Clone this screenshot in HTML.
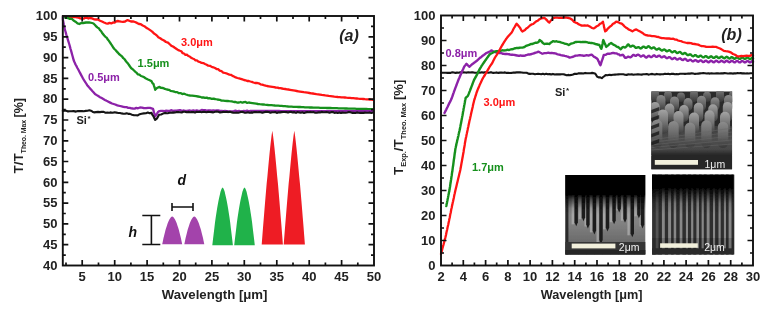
<!DOCTYPE html>
<html><head><meta charset="utf-8">
<style>
html,body{margin:0;padding:0;background:#fff;width:770px;height:309px;overflow:hidden}
svg{display:block;filter:blur(0.5px)}
text{font-family:"Liberation Sans",sans-serif;font-weight:bold;fill:#222}
.tl text{font-size:13px}
</style></head>
<body>
<svg width="770" height="309" viewBox="0 0 770 309">
<defs><filter id="semblur" x="-5%" y="-5%" width="110%" height="110%"><feGaussianBlur stdDeviation="0.7"/></filter></defs>
<polygon fill="#a343ab" points="162.2,244.2 162.9,241.0 163.5,238.1 164.2,235.2 164.9,232.6 165.5,230.1 166.2,227.8 166.9,225.7 167.5,223.8 168.2,222.1 168.9,220.6 169.5,219.2 170.2,218.2 170.9,217.3 171.5,216.7 172.2,216.5 172.9,216.7 173.5,217.3 174.2,218.2 174.9,219.2 175.5,220.6 176.2,222.1 176.9,223.8 177.5,225.7 178.2,227.8 178.9,230.1 179.5,232.6 180.2,235.2 180.9,238.1 181.5,241.0 182.2,244.2"/>
<polygon fill="#a343ab" points="184.3,244.2 185.0,241.0 185.6,238.1 186.3,235.2 187.0,232.6 187.6,230.1 188.3,227.8 189.0,225.7 189.6,223.8 190.3,222.1 191.0,220.6 191.6,219.2 192.3,218.2 193.0,217.3 193.6,216.7 194.3,216.5 195.0,216.7 195.6,217.3 196.3,218.2 197.0,219.2 197.6,220.6 198.3,222.1 199.0,223.8 199.6,225.7 200.3,227.8 201.0,230.1 201.6,232.6 202.3,235.2 203.0,238.1 203.6,241.0 204.3,244.2"/>
<polygon fill="#20b24a" points="212.3,245.2 213.0,239.2 213.7,233.4 214.4,227.8 215.0,222.6 215.7,217.6 216.4,212.9 217.1,208.5 217.8,204.5 218.5,200.7 219.2,197.4 219.9,194.4 220.5,191.8 221.2,189.7 221.9,188.2 222.6,187.4 223.3,188.2 224.0,189.7 224.7,191.8 225.3,194.4 226.0,197.4 226.7,200.7 227.4,204.5 228.1,208.5 228.8,212.9 229.5,217.6 230.2,222.6 230.8,227.8 231.5,233.4 232.2,239.2 232.9,245.2"/>
<polygon fill="#20b24a" points="234.2,245.2 234.9,239.2 235.6,233.4 236.3,227.8 236.9,222.6 237.6,217.6 238.3,212.9 239.0,208.5 239.7,204.5 240.4,200.7 241.1,197.4 241.8,194.4 242.4,191.8 243.1,189.7 243.8,188.2 244.5,187.4 245.2,188.2 245.9,189.7 246.6,191.8 247.2,194.4 247.9,197.4 248.6,200.7 249.3,204.5 250.0,208.5 250.7,212.9 251.4,217.6 252.1,222.6 252.7,227.8 253.4,233.4 254.1,239.2 254.8,245.2"/>
<polygon fill="#ee1c24" points="261.7,244.6 262.4,235.6 263.1,226.6 263.8,217.9 264.5,209.2 265.2,200.8 265.9,192.4 266.6,184.3 267.4,176.4 268.1,168.7 268.8,161.3 269.5,154.1 270.2,147.3 270.9,140.9 271.6,135.2 272.3,130.8 273.0,135.2 273.7,140.9 274.4,147.3 275.1,154.1 275.8,161.3 276.5,168.7 277.2,176.4 278.0,184.3 278.7,192.4 279.4,200.8 280.1,209.2 280.8,217.9 281.5,226.6 282.2,235.6 282.9,244.6"/>
<polygon fill="#ee1c24" points="283.7,244.6 284.4,235.6 285.1,226.6 285.8,217.9 286.5,209.2 287.2,200.8 287.9,192.4 288.6,184.3 289.4,176.4 290.1,168.7 290.8,161.3 291.5,154.1 292.2,147.3 292.9,140.9 293.6,135.2 294.3,130.8 295.0,135.2 295.7,140.9 296.4,147.3 297.1,154.1 297.8,161.3 298.5,168.7 299.2,176.4 300.0,184.3 300.7,192.4 301.4,200.8 302.1,209.2 302.8,217.9 303.5,226.6 304.2,235.6 304.9,244.6"/>
<path fill="none" stroke="#111" stroke-width="1.6" d="M142.3,215.5h18M151.4,215.5v29M142.3,244.5h18M172,207h21M172,203v8M193,203v8"/>
<text x="177.5" y="184.6" style="font-size:14px;font-style:italic;fill:#111">d</text>
<text x="128.5" y="236.7" style="font-size:14px;font-style:italic;fill:#111">h</text>
<polyline fill="none" stroke="#ff1414" stroke-width="2.3" stroke-linejoin="round" stroke-linecap="round" points="63.0,16.5 64.8,16.8 66.5,16.6 68.2,17.7 70.0,17.5 71.7,17.6 73.3,16.9 75.0,17.0 76.8,17.4 78.5,17.7 80.2,18.3 82.0,18.5 83.6,18.7 85.2,17.8 86.8,17.6 88.4,18.5 90.0,18.0 92.0,18.4 94.0,19.3 96.0,19.5 98.0,19.5 100.0,20.7 102.0,21.5 104.0,22.5 105.9,23.3 107.8,23.6 109.5,22.9 111.3,23.4 113.0,22.5 114.6,22.7 116.2,21.3 117.8,21.0 119.4,21.3 121.2,21.6 123.0,21.8 125.1,21.5 127.2,20.1 129.1,20.7 131.0,21.5 133.0,21.4 135.0,22.0 137.0,22.9 139.0,24.0 140.8,24.2 142.7,25.5 144.3,26.2 146.0,27.5 147.5,28.4 149.0,29.4 150.5,30.4 152.2,31.6 154.0,33.5 155.4,34.4 156.9,35.6 158.3,37.2 160.2,38.3 162.0,39.5 164.0,40.5 166.0,42.0 168.0,42.7 170.0,44.5 171.5,45.9 173.0,46.5 174.8,47.8 176.6,49.0 178.3,50.1 180.0,50.8 181.3,51.3 182.7,53.2 184.0,53.5 185.4,54.8 186.9,54.7 188.3,56.0 189.7,56.5 191.2,57.8 192.6,58.5 194.0,59.0 195.5,60.3 196.9,60.4 198.4,61.6 199.9,62.0 201.6,62.9 203.3,63.1 205.0,64.0 206.7,64.7 208.3,65.7 210.0,65.8 211.7,66.9 213.3,67.3 215.0,68.0 216.6,69.0 218.1,69.2 219.7,70.7 221.5,71.2 223.2,72.6 225.0,73.0 227.2,73.7 229.4,74.6 230.9,74.8 232.5,75.9 234.0,76.5 235.7,77.4 237.4,78.0 239.1,78.4 240.7,78.8 242.4,79.4 244.0,80.0 245.6,80.3 247.2,81.0 248.8,81.0 250.4,81.5 251.9,81.9 253.4,82.5 255.0,83.0 256.8,82.9 258.7,83.3 260.5,84.3 262.1,84.7 263.8,85.2 265.4,85.6 267.0,86.0 268.8,86.3 270.6,86.6 272.3,86.9 274.1,87.2 275.7,87.5 277.3,87.7 278.8,88.0 280.4,88.2 282.0,88.5 283.6,88.8 285.2,89.0 286.8,89.3 288.4,89.5 290.0,89.8 291.7,90.1 293.3,90.4 295.0,90.7 296.7,91.0 298.3,91.3 300.0,91.6 301.9,91.9 303.8,92.2 305.6,92.4 307.5,92.7 309.4,93.0 311.2,93.3 312.9,93.5 314.7,93.8 316.5,94.1 318.2,94.3 320.0,94.6 321.8,94.9 323.5,95.1 325.3,95.4 327.0,95.6 328.8,95.9 330.6,96.1 332.5,96.3 334.3,96.6 336.2,96.8 338.0,97.0 339.7,97.1 341.4,97.3 343.1,97.4 344.8,97.5 346.5,97.7 348.2,97.8 349.9,97.9 351.6,98.1 353.3,98.2 354.9,98.4 356.6,98.5 358.3,98.7 360.0,98.8 361.6,98.9 363.2,99.0 364.9,99.2 366.5,99.3 368.1,99.4 369.8,99.5 371.4,99.7 373.0,99.8"/>
<polyline fill="none" stroke="#16901c" stroke-width="2.3" stroke-linejoin="round" stroke-linecap="round" points="63.8,17.3 65.9,17.6 68.0,18.0 69.8,18.9 71.6,18.7 73.5,20.5 75.5,21.7 77.5,23.3 79.4,24.0 81.3,23.0 83.2,23.0 86.0,22.5 89.0,22.3 92.0,23.0 93.5,23.5 95.0,25.0 96.3,26.5 97.7,27.6 99.0,28.5 100.0,30.1 101.0,31.0 102.0,32.7 103.0,34.0 104.2,35.5 105.4,36.8 106.6,37.7 107.8,39.5 108.9,40.9 109.9,42.4 111.0,44.0 112.1,45.7 113.2,47.5 114.4,49.0 115.5,50.0 116.7,51.4 117.8,52.6 119.0,54.0 120.4,55.1 121.9,56.3 123.3,58.2 124.5,59.1 125.8,61.0 127.0,62.5 128.0,63.6 129.0,65.0 130.0,66.5 131.3,68.3 132.7,69.2 134.0,70.5 135.3,71.8 136.5,72.7 137.8,74.3 139.4,74.6 141.0,76.0 142.5,76.5 144.0,77.1 145.5,78.2 148.0,79.5 149.7,80.3 151.4,81.1 152.4,83.1 153.5,84.0 154.1,86.1 154.6,87.5 155.2,89.8 157.0,88.0 159.1,86.9 161.1,87.9 163.0,88.0 164.9,88.9 166.9,89.5 168.8,89.8 170.5,90.8 172.3,91.2 174.0,91.5 175.6,92.2 177.2,92.1 178.9,93.2 180.5,93.1 182.3,94.1 184.2,93.7 186.0,94.5 188.0,95.1 190.1,95.5 192.1,95.6 194.1,95.9 196.1,96.2 198.0,96.5 200.0,96.8 201.7,97.5 203.3,97.3 205.0,97.9 206.7,97.6 208.3,98.4 210.0,98.2 211.7,98.9 213.3,98.7 215.0,99.0 217.3,99.5 219.7,99.8 221.5,100.6 223.2,100.7 225.0,100.8 227.2,101.0 229.4,101.2 231.7,101.3 234.0,102.0 235.7,102.0 237.4,102.6 239.1,102.5 240.7,102.0 242.4,102.7 244.0,102.2 245.6,102.0 247.2,102.9 248.8,102.5 250.6,102.8 252.5,103.1 254.3,103.4 256.2,103.7 258.0,104.0 259.7,104.2 261.4,104.3 263.1,104.5 264.9,104.7 266.6,104.8 268.3,105.0 270.0,105.1 271.6,105.2 273.3,105.3 275.0,105.5 276.7,105.6 278.3,105.7 280.0,105.8 281.7,105.9 283.3,106.1 285.0,106.2 286.7,106.3 288.3,106.5 290.0,106.6 291.7,106.7 293.3,106.8 295.0,106.8 296.7,106.9 298.3,107.0 300.0,107.0 301.7,107.1 303.3,107.2 305.0,107.3 306.7,107.3 308.3,107.4 310.0,107.5 311.7,107.5 313.4,107.6 315.1,107.6 316.8,107.7 318.5,107.7 320.3,107.8 322.0,107.8 323.7,107.9 325.4,107.9 327.1,108.0 328.8,108.0 330.4,108.0 332.1,108.1 333.7,108.1 335.3,108.2 337.0,108.2 338.6,108.3 340.2,108.3 341.8,108.4 343.5,108.4 345.1,108.5 346.7,108.5 348.4,108.6 350.0,108.6 351.6,108.6 353.3,108.7 354.9,108.7 356.6,108.8 358.2,108.8 359.9,108.9 361.5,108.9 363.1,108.9 364.8,109.0 366.4,109.0 368.1,109.1 369.7,109.1 371.4,109.2 373.0,109.2"/>
<polyline fill="none" stroke="#8c22a8" stroke-width="2.3" stroke-linejoin="round" stroke-linecap="round" points="62.9,17.0 62.9,19.7 63.2,21.3 63.5,22.9 63.8,24.5 64.2,26.2 64.5,27.8 64.8,29.4 65.3,31.0 65.8,32.6 66.2,34.2 66.7,35.9 67.2,37.5 67.7,39.1 68.3,41.1 68.9,43.0 69.5,45.0 70.0,46.9 70.5,48.8 71.1,50.7 71.6,52.6 72.1,54.5 72.6,56.3 73.1,58.1 73.6,60.0 74.2,61.5 74.9,63.0 75.5,64.5 76.5,66.2 77.4,68.0 78.4,69.8 79.4,71.7 80.3,73.4 81.2,75.1 82.1,76.8 83.0,78.5 84.0,80.2 85.1,81.8 86.2,83.5 87.2,85.2 88.5,86.6 89.7,88.1 91.0,89.5 92.3,91.0 93.7,92.5 95.0,94.0 96.7,95.1 98.3,96.1 100.0,97.2 101.7,98.1 103.3,99.0 104.9,99.9 106.6,100.8 108.4,101.7 110.2,102.6 112.0,103.5 113.6,104.0 115.2,104.5 116.7,105.1 118.3,105.6 120.0,106.0 121.7,106.4 123.3,106.8 125.0,107.2 126.6,107.2 128.2,107.8 129.8,107.8 131.4,108.3 133.0,108.5 134.7,108.6 136.3,107.9 138.0,108.3 140.0,107.5 142.0,107.6 144.0,108.2 146.0,108.2 148.0,107.8 150.0,107.8 153.0,108.8 153.4,110.1 153.9,112.4 154.3,113.4 154.8,115.3 155.2,116.5 156.1,115.0 157.1,113.6 158.0,112.0 159.5,111.1 161.0,110.8 162.8,110.9 164.5,111.1 166.2,110.7 168.0,110.9 169.8,110.8 171.5,110.2 173.2,110.9 175.0,110.6 176.7,110.7 178.3,110.4 180.0,110.1 181.7,110.9 183.3,110.5 185.0,110.8 186.7,110.9 188.3,110.7 190.0,110.5 191.7,110.9 193.3,110.4 195.0,110.8 196.7,110.4 198.3,110.9 200.0,110.8 201.7,110.0 203.3,110.1 205.0,110.1 206.7,110.9 208.3,110.3 210.0,110.4 211.7,110.6 213.3,110.3 215.0,110.6 216.7,110.5 218.3,110.5 220.0,110.8 221.7,110.9 223.3,111.2 225.0,110.9 226.8,111.1 228.5,111.3 230.2,111.3 232.0,111.4 233.8,111.1 235.5,110.6 237.2,111.3 239.0,110.9 240.6,111.4 242.2,111.3 243.8,111.0 245.5,111.1 247.1,110.6 248.7,111.3 250.3,111.0 251.9,111.0 253.5,111.0 255.2,111.0 256.8,111.0 258.4,111.0 260.0,111.0 261.6,111.0 263.2,111.0 264.8,111.0 266.4,111.0 268.0,111.0 269.6,111.0 271.2,111.0 272.8,111.0 274.4,111.0 276.0,111.0 277.6,111.0 279.2,111.0 280.8,111.1 282.4,111.1 284.0,111.1 285.6,111.1 287.2,111.1 288.8,111.1 290.4,111.1 292.0,111.1 293.6,111.1 295.2,111.1 296.8,111.1 298.4,111.1 300.0,111.1 301.6,111.1 303.2,111.1 304.9,111.1 306.5,111.1 308.1,111.1 309.7,111.1 311.4,111.1 313.0,111.1 314.6,111.1 316.2,111.1 317.8,111.1 319.5,111.1 321.1,111.1 322.7,111.1 324.3,111.1 326.0,111.1 327.6,111.1 329.2,111.1 330.8,111.1 332.4,111.1 334.1,111.1 335.7,111.1 337.3,111.2 338.9,111.2 340.6,111.2 342.2,111.2 343.8,111.2 345.4,111.2 347.0,111.2 348.7,111.2 350.3,111.2 351.9,111.2 353.5,111.2 355.2,111.2 356.8,111.2 358.4,111.2 360.0,111.2 361.6,111.2 363.3,111.2 364.9,111.2 366.5,111.2 368.1,111.2 369.8,111.2 371.4,111.2 373.0,111.2"/>
<polyline fill="none" stroke="#151515" stroke-width="2.1" stroke-linejoin="round" stroke-linecap="round" points="62.8,110.9 64.5,110.8 66.3,110.8 68.0,111.4 69.7,111.2 71.3,111.3 73.7,111.1 76.0,111.6 78.0,111.0 80.0,111.1 82.0,111.0 83.8,111.2 85.7,110.9 87.6,110.7 89.4,110.2 90.9,110.7 92.5,111.7 94.0,112.4 96.0,112.1 98.0,111.9 100.0,112.1 101.8,111.8 103.7,111.9 105.5,112.7 107.3,112.6 109.2,112.7 111.0,112.4 112.8,112.8 114.6,112.3 116.4,112.6 118.2,113.0 120.0,113.0 121.7,113.4 123.3,113.7 125.0,113.8 126.7,113.2 128.3,113.9 130.0,113.9 132.0,114.7 134.0,115.2 135.9,115.3 137.8,115.4 139.7,114.2 141.6,113.7 143.8,113.4 146.0,113.2 147.8,112.6 149.6,113.3 151.4,112.7 152.4,114.9 153.5,116.4 154.3,118.2 155.2,119.9 157.0,118.4 158.1,116.4 159.1,114.7 161.1,114.5 163.0,113.6 165.0,112.9 166.7,113.2 168.3,113.1 170.0,112.7 171.7,112.5 173.3,112.6 175.0,112.4 176.7,112.0 178.3,112.1 180.0,112.2 181.7,112.5 183.3,111.7 185.0,111.7 186.7,112.3 188.3,111.9 190.0,112.2 191.7,112.1 193.3,112.0 195.0,112.6 196.7,111.8 198.3,112.0 200.0,111.8 201.7,112.2 203.3,111.8 205.0,111.9 206.7,112.3 208.3,111.8 210.0,112.0 211.7,112.1 213.3,112.4 215.0,111.7 216.7,111.6 218.3,111.8 220.0,112.4 221.7,112.2 223.3,111.9 225.0,112.0 226.7,111.8 228.3,112.1 230.0,111.7 231.7,112.4 233.3,112.6 235.0,112.7 236.7,112.5 238.3,112.7 240.0,112.3 241.6,111.8 243.2,112.1 244.8,112.8 246.4,112.6 248.0,112.2 249.6,112.8 251.2,112.4 252.8,112.6 254.4,112.1 256.0,112.0 257.6,112.3 259.2,112.0 260.8,112.2 262.4,112.8 264.0,112.2 265.6,111.9 267.2,111.9 268.8,112.0 270.4,112.7 272.0,112.2 273.6,112.2 275.2,112.0 276.8,112.9 278.4,112.3 280.0,112.4 281.6,112.1 283.2,112.0 284.8,112.0 286.4,112.1 288.0,112.6 289.6,112.0 291.2,111.9 292.8,112.4 294.4,112.1 296.0,112.9 297.6,112.0 299.2,112.4 300.8,112.7 302.4,112.3 304.0,112.9 305.6,112.4 307.2,112.1 308.8,112.3 310.4,111.9 312.0,112.3 313.6,112.1 315.2,112.8 316.8,112.7 318.4,112.4 320.0,112.4 321.6,111.9 323.2,112.2 324.8,112.2 326.4,112.1 328.0,112.2 329.6,112.8 331.2,112.1 332.8,112.0 334.5,112.9 336.1,112.5 337.7,113.0 339.3,112.4 340.9,112.9 342.5,112.6 344.1,112.8 345.7,112.7 347.3,112.5 348.9,112.1 350.5,112.2 352.1,112.9 353.7,112.9 355.3,113.0 356.9,112.4 358.5,112.7 360.2,112.9 361.8,112.7 363.4,112.9 365.0,112.6 366.6,112.7 368.2,112.8 369.8,112.4 371.4,113.0 373.0,112.6"/>
<rect x="62.8" y="16.0" width="311.2" height="249.5" fill="none" stroke="#111" stroke-width="1.9"/>
<path fill="none" stroke="#111" stroke-width="1.7" d="M66.0,265.5v-3M66.0,16.0v3M82.2,265.5v-5.5M82.2,16.0v5.5M98.5,265.5v-3M98.5,16.0v3M114.7,265.5v-5.5M114.7,16.0v5.5M130.9,265.5v-3M130.9,16.0v3M147.1,265.5v-5.5M147.1,16.0v5.5M163.3,265.5v-3M163.3,16.0v3M179.5,265.5v-5.5M179.5,16.0v5.5M195.7,265.5v-3M195.7,16.0v3M211.9,265.5v-5.5M211.9,16.0v5.5M228.1,265.5v-3M228.1,16.0v3M244.3,265.5v-5.5M244.3,16.0v5.5M260.5,265.5v-3M260.5,16.0v3M276.8,265.5v-5.5M276.8,16.0v5.5M293.0,265.5v-3M293.0,16.0v3M309.2,265.5v-5.5M309.2,16.0v5.5M325.4,265.5v-3M325.4,16.0v3M341.6,265.5v-5.5M341.6,16.0v5.5M357.8,265.5v-3M357.8,16.0v3M62.8,255.1h3M374.0,255.1h-3M62.8,244.7h5.5M374.0,244.7h-5.5M62.8,234.3h3M374.0,234.3h-3M62.8,223.9h5.5M374.0,223.9h-5.5M62.8,213.5h3M374.0,213.5h-3M62.8,203.1h5.5M374.0,203.1h-5.5M62.8,192.7h3M374.0,192.7h-3M62.8,182.3h5.5M374.0,182.3h-5.5M62.8,171.9h3M374.0,171.9h-3M62.8,161.5h5.5M374.0,161.5h-5.5M62.8,151.1h3M374.0,151.1h-3M62.8,140.8h5.5M374.0,140.8h-5.5M62.8,130.4h3M374.0,130.4h-3M62.8,120.0h5.5M374.0,120.0h-5.5M62.8,109.6h3M374.0,109.6h-3M62.8,99.2h5.5M374.0,99.2h-5.5M62.8,88.8h3M374.0,88.8h-3M62.8,78.4h5.5M374.0,78.4h-5.5M62.8,68.0h3M374.0,68.0h-3M62.8,57.6h5.5M374.0,57.6h-5.5M62.8,47.2h3M374.0,47.2h-3M62.8,36.8h5.5M374.0,36.8h-5.5M62.8,26.4h3M374.0,26.4h-3"/>
<g class="tl"><text x="57.5" y="269.7" text-anchor="end">40</text><text x="57.5" y="248.9" text-anchor="end">45</text><text x="57.5" y="228.1" text-anchor="end">50</text><text x="57.5" y="207.3" text-anchor="end">55</text><text x="57.5" y="186.5" text-anchor="end">60</text><text x="57.5" y="165.7" text-anchor="end">65</text><text x="57.5" y="144.9" text-anchor="end">70</text><text x="57.5" y="124.2" text-anchor="end">75</text><text x="57.5" y="103.4" text-anchor="end">80</text><text x="57.5" y="82.6" text-anchor="end">85</text><text x="57.5" y="61.8" text-anchor="end">90</text><text x="57.5" y="41.0" text-anchor="end">95</text><text x="57.5" y="20.2" text-anchor="end">100</text><text x="82.2" y="281.0" text-anchor="middle">5</text><text x="114.7" y="281.0" text-anchor="middle">10</text><text x="147.1" y="281.0" text-anchor="middle">15</text><text x="179.5" y="281.0" text-anchor="middle">20</text><text x="211.9" y="281.0" text-anchor="middle">25</text><text x="244.3" y="281.0" text-anchor="middle">30</text><text x="276.8" y="281.0" text-anchor="middle">35</text><text x="309.2" y="281.0" text-anchor="middle">40</text><text x="341.6" y="281.0" text-anchor="middle">45</text><text x="374.0" y="281.0" text-anchor="middle">50</text></g>
<text x="214.6" y="298.8" text-anchor="middle" style="font-size:13.2px">Wavelength [μm]</text>
<text x="349" y="41" text-anchor="middle" style="font-size:16px;font-style:italic">(a)</text>
<text x="181" y="46.2" style="font-size:11px;fill:#ff1414">3.0μm</text>
<text x="137.6" y="66.8" style="font-size:11px;fill:#16901c">1.5μm</text>
<text x="88" y="81.2" style="font-size:11px;fill:#8c22a8">0.5μm</text>
<text x="76.5" y="124.3" style="font-size:11px">Si<tspan dx="0.5" dy="-3" style="font-size:8px">*</tspan></text>
<g transform="translate(23,173.5) rotate(-90)"><text x="0" y="0" style="font-size:13.5px">T/T<tspan dy="3" style="font-size:6.8px">Theo. Max</tspan><tspan dy="-3" dx="2.5" style="font-size:12.5px">[%]</tspan></text></g>
<g filter="url(#semblur)"><defs>
<linearGradient id="fadeA" x1="0" y1="0" x2="0" y2="1">
<stop offset="0" stop-color="#000"/><stop offset="0.24" stop-color="#000"/><stop offset="0.3" stop-color="#000" stop-opacity="0.6"/><stop offset="0.42" stop-color="#000" stop-opacity="0.1"/><stop offset="0.5" stop-color="#000" stop-opacity="0"/><stop offset="1" stop-color="#000" stop-opacity="0"/></linearGradient>
<linearGradient id="fadeB" x1="0" y1="0" x2="0" y2="1">
<stop offset="0" stop-color="#000"/><stop offset="0.16" stop-color="#000"/><stop offset="0.22" stop-color="#000" stop-opacity="0.7"/><stop offset="0.36" stop-color="#000" stop-opacity="0.15"/><stop offset="0.5" stop-color="#000" stop-opacity="0"/><stop offset="1" stop-color="#000" stop-opacity="0"/></linearGradient>
<linearGradient id="pil" x1="0" y1="0" x2="0" y2="1">
<stop offset="0" stop-color="#a0a0a0"/><stop offset="0.45" stop-color="#787878"/><stop offset="1" stop-color="#353535"/></linearGradient>
<linearGradient id="pil2" x1="0" y1="0" x2="0" y2="1">
<stop offset="0" stop-color="#7a7a7a"/><stop offset="1" stop-color="#3a3a3a"/></linearGradient>
<linearGradient id="floor" x1="0" y1="0" x2="0" y2="1">
<stop offset="0" stop-color="#3c3c3c"/><stop offset="0.5" stop-color="#4e4e4e"/><stop offset="0.8" stop-color="#474747"/><stop offset="1" stop-color="#262626"/></linearGradient>
<linearGradient id="pilA" x1="0" y1="0" x2="0" y2="1"><stop offset="0" stop-color="#787878"/><stop offset="1" stop-color="#353535"/></linearGradient>
<linearGradient id="pilB" x1="0" y1="0" x2="0" y2="1"><stop offset="0" stop-color="#8c8c8c"/><stop offset="0.5" stop-color="#686868"/><stop offset="1" stop-color="#383838"/></linearGradient>
<linearGradient id="pilC" x1="0" y1="0" x2="0" y2="1"><stop offset="0" stop-color="#a4a4a4"/><stop offset="0.5" stop-color="#767676"/><stop offset="1" stop-color="#3c3c3c"/></linearGradient>
<linearGradient id="g2" x1="0" y1="0" x2="0" y2="1">
<stop offset="0" stop-color="#8a8a8a"/><stop offset="0.6" stop-color="#828282"/><stop offset="0.85" stop-color="#6a6a6a"/><stop offset="1" stop-color="#333"/></linearGradient>
</defs>

<clipPath id="c1"><rect x="651.2" y="91.3" width="81.0" height="78.2"/></clipPath>
<g clip-path="url(#c1)">
<rect x="651.2" y="91.3" width="81.0" height="78.2" fill="#2a2a2a"/>
<rect x="651.2" y="126" width="81.0" height="29" fill="url(#floor)"/>
<rect x="651.0" y="89.4" width="8.0" height="12.6" rx="4.0" fill="url(#pilA)"/>
<rect x="664.0" y="91.0" width="8.0" height="11.0" rx="4.0" fill="url(#pilA)"/>
<rect x="677.0" y="92.6" width="8.0" height="9.4" rx="4.0" fill="url(#pilA)"/>
<rect x="690.0" y="90.2" width="8.0" height="11.8" rx="4.0" fill="url(#pilA)"/>
<rect x="703.0" y="91.8" width="8.0" height="10.2" rx="4.0" fill="url(#pilA)"/>
<rect x="716.0" y="89.4" width="8.0" height="12.6" rx="4.0" fill="url(#pilA)"/>
<rect x="729.0" y="91.0" width="8.0" height="11.0" rx="4.0" fill="url(#pilA)"/>
<rect x="656.5" y="94.9" width="9.0" height="16.1" rx="4.5" fill="url(#pilB)"/>
<rect x="670.0" y="96.5" width="9.0" height="14.5" rx="4.5" fill="url(#pilB)"/>
<rect x="683.5" y="98.1" width="9.0" height="12.9" rx="4.5" fill="url(#pilB)"/>
<rect x="697.0" y="95.7" width="9.0" height="15.3" rx="4.5" fill="url(#pilB)"/>
<rect x="710.5" y="97.3" width="9.0" height="13.7" rx="4.5" fill="url(#pilB)"/>
<rect x="724.0" y="94.9" width="9.0" height="16.1" rx="4.5" fill="url(#pilB)"/>
<rect x="650.2" y="101.9" width="9.5" height="20.1" rx="4.8" fill="url(#pilC)"/>
<rect x="664.8" y="103.5" width="9.5" height="18.5" rx="4.8" fill="url(#pilC)"/>
<rect x="679.2" y="105.1" width="9.5" height="16.9" rx="4.8" fill="url(#pilC)"/>
<rect x="693.8" y="102.7" width="9.5" height="19.3" rx="4.8" fill="url(#pilC)"/>
<rect x="708.2" y="104.3" width="9.5" height="17.7" rx="4.8" fill="url(#pilC)"/>
<rect x="722.8" y="101.9" width="9.5" height="20.1" rx="4.8" fill="url(#pilC)"/>
<rect x="658.0" y="109.4" width="10.0" height="24.6" rx="5.0" fill="url(#pilC)"/>
<rect x="673.5" y="111.0" width="10.0" height="23.0" rx="5.0" fill="url(#pilC)"/>
<rect x="689.0" y="112.6" width="10.0" height="21.4" rx="5.0" fill="url(#pilC)"/>
<rect x="704.5" y="110.2" width="10.0" height="23.8" rx="5.0" fill="url(#pilC)"/>
<rect x="720.0" y="111.8" width="10.0" height="22.2" rx="5.0" fill="url(#pilC)"/>
<rect x="651.8" y="119.4" width="10.5" height="28.6" rx="5.2" fill="url(#pilB)"/>
<rect x="668.2" y="121.0" width="10.5" height="27.0" rx="5.2" fill="url(#pilB)"/>
<rect x="684.8" y="122.6" width="10.5" height="25.4" rx="5.2" fill="url(#pilB)"/>
<rect x="701.2" y="120.2" width="10.5" height="27.8" rx="5.2" fill="url(#pilB)"/>
<rect x="717.8" y="121.8" width="10.5" height="26.2" rx="5.2" fill="url(#pilB)"/>
<path d="M651.2,140.0L732.2,128.0" stroke="#6a6a6a" stroke-width="0.8" opacity="0.6"/>
<path d="M651.2,142.5L732.2,132.0" stroke="#6a6a6a" stroke-width="0.8" opacity="0.6"/>
<path d="M651.2,145.0L732.2,136.0" stroke="#6a6a6a" stroke-width="0.8" opacity="0.6"/>
<path d="M651.2,147.5L732.2,140.0" stroke="#6a6a6a" stroke-width="0.8" opacity="0.6"/>
<path d="M651.2,150.0L732.2,144.0" stroke="#6a6a6a" stroke-width="0.8" opacity="0.6"/>
<path d="M651.2,110.0l8,-3v3.5l-8,3z" fill="#1a1a1a" opacity="0.8"/>
<path d="M651.2,118.0l8,-3v3.5l-8,3z" fill="#1a1a1a" opacity="0.8"/>
<path d="M651.2,126.0l8,-3v3.5l-8,3z" fill="#1a1a1a" opacity="0.8"/>
<path d="M651.2,134.0l8,-3v3.5l-8,3z" fill="#1a1a1a" opacity="0.8"/>
<path d="M651.2,142.0l8,-3v3.5l-8,3z" fill="#1a1a1a" opacity="0.8"/>
<rect x="651.2" y="155.5" width="81.0" height="14.0" fill="#262626"/>
</g>
<rect x="654.8" y="160" width="43.2" height="4.8" fill="#f2f0dc"/>
<rect x="565.4" y="175.0" width="79.9" height="79.5" fill="url(#g2)"/>
<rect x="571.6" y="193.0" width="2.4" height="31.3" fill="#b4b4b4" opacity="0.7"/>
<rect x="578.6" y="193.0" width="2.4" height="26.2" fill="#b4b4b4" opacity="0.7"/>
<rect x="584.5" y="193.0" width="2.4" height="33.5" fill="#b4b4b4" opacity="0.7"/>
<rect x="589.9" y="193.0" width="2.4" height="39.4" fill="#b4b4b4" opacity="0.7"/>
<rect x="596.5" y="193.0" width="2.4" height="49.0" fill="#b4b4b4" opacity="0.7"/>
<rect x="603.0" y="193.0" width="2.4" height="36.4" fill="#b4b4b4" opacity="0.7"/>
<rect x="609.6" y="193.0" width="2.4" height="29.2" fill="#b4b4b4" opacity="0.7"/>
<rect x="615.5" y="193.0" width="2.4" height="17.5" fill="#b4b4b4" opacity="0.7"/>
<rect x="620.9" y="193.0" width="2.4" height="27.7" fill="#b4b4b4" opacity="0.7"/>
<rect x="627.4" y="193.0" width="2.4" height="42.3" fill="#b4b4b4" opacity="0.7"/>
<rect x="634.4" y="193.0" width="2.4" height="23.3" fill="#b4b4b4" opacity="0.7"/>
<rect x="639.5" y="193.0" width="2.4" height="33.5" fill="#b4b4b4" opacity="0.7"/>
<path d="M574.5,187.0V222.3L576.2,226.3L577.9,222.3V187.0Z" fill="#1c1c1c"/>
<path d="M581.8,187.0V217.2L583.5,221.2L585.2,217.2V187.0Z" fill="#1c1c1c"/>
<path d="M586.2,187.0V224.5L587.9,228.5L589.6,224.5V187.0Z" fill="#1c1c1c"/>
<path d="M592.7,187.0V230.4L594.4,234.4L596.1,230.4V187.0Z" fill="#1c1c1c"/>
<path d="M599.3,187.0V240.0L601.0,244.0L602.7,240.0V187.0Z" fill="#1c1c1c"/>
<path d="M605.8,187.0V227.4L607.5,231.4L609.2,227.4V187.0Z" fill="#1c1c1c"/>
<path d="M612.4,187.0V220.2L614.1,224.2L615.8,220.2V187.0Z" fill="#1c1c1c"/>
<path d="M617.5,187.0V208.5L619.2,212.5L620.9,208.5V187.0Z" fill="#1c1c1c"/>
<path d="M623.3,187.0V218.7L625.0,222.7L626.7,218.7V187.0Z" fill="#1c1c1c"/>
<path d="M630.6,187.0V233.3L632.3,237.3L634.0,233.3V187.0Z" fill="#1c1c1c"/>
<path d="M637.2,187.0V214.3L638.9,218.3L640.6,214.3V187.0Z" fill="#1c1c1c"/>
<path d="M640.8,187.0V224.5L642.5,228.5L644.2,224.5V187.0Z" fill="#1c1c1c"/>
<rect x="565.4" y="175.0" width="3" height="79.5" fill="#2a2a2a"/>
<rect x="565.4" y="175.0" width="79.9" height="79.5" fill="url(#fadeA)"/>
<rect x="565.4" y="242" width="79.9" height="12.5" fill="#363636"/>
<rect x="565.4" y="250" width="79.9" height="4.5" fill="#262626"/>
<rect x="571.7" y="243.6" width="43.7" height="4.8" fill="#f2f0dc"/>
<rect x="652.0" y="174.6" width="81.5" height="79.9" fill="#888"/>
<rect x="652.5" y="174.6" width="3.2" height="79.9" fill="#2e2e2e"/>
<rect x="658.5" y="174.6" width="3.4" height="79.9" fill="#2e2e2e"/>
<rect x="664.8" y="174.6" width="3.3" height="79.9" fill="#2e2e2e"/>
<rect x="671.1" y="174.6" width="2.6" height="79.9" fill="#2e2e2e"/>
<rect x="676.2" y="174.6" width="3.5" height="79.9" fill="#2e2e2e"/>
<rect x="682.4" y="174.6" width="3.5" height="79.9" fill="#2e2e2e"/>
<rect x="688.0" y="174.6" width="3.1" height="79.9" fill="#2e2e2e"/>
<rect x="693.3" y="174.6" width="3.1" height="79.9" fill="#2e2e2e"/>
<rect x="699.0" y="174.6" width="2.6" height="79.9" fill="#2e2e2e"/>
<rect x="703.8" y="174.6" width="2.9" height="79.9" fill="#2e2e2e"/>
<rect x="709.6" y="174.6" width="3.4" height="79.9" fill="#2e2e2e"/>
<rect x="715.1" y="174.6" width="3.4" height="79.9" fill="#2e2e2e"/>
<rect x="720.7" y="174.6" width="3.2" height="79.9" fill="#2e2e2e"/>
<rect x="726.0" y="174.6" width="2.6" height="79.9" fill="#2e2e2e"/>
<rect x="731.5" y="174.6" width="2.8" height="79.9" fill="#2e2e2e"/>
<rect x="652.0" y="174.6" width="7" height="79.9" fill="#333" opacity="0.6"/>
<rect x="652.0" y="174.6" width="81.5" height="79.9" fill="url(#fadeB)"/>
<rect x="652.0" y="238" width="81.5" height="16.5" fill="#000" opacity="0.15"/>
<rect x="652.0" y="248.3" width="81.5" height="6.2" fill="#2a2a2a"/>
<rect x="660.1" y="243.3" width="37.7" height="4.5" fill="#f2f0dc"/>
</g><text x="704.5" y="167.6" style="font-size:10.5px;font-weight:normal;fill:#eee">1μm</text><text x="618.8" y="251.2" style="font-size:10.5px;font-weight:normal;fill:#f0f0f0">2μm</text><text x="704.2" y="251.2" style="font-size:10.5px;font-weight:normal;fill:#f0f0f0">2μm</text><polyline fill="none" stroke="#151515" stroke-width="2.1" stroke-linejoin="round" stroke-linecap="round" points="441.0,72.6 442.6,72.7 444.2,72.8 445.8,72.8 447.4,72.9 449.1,72.7 450.7,72.9 452.3,72.2 453.9,72.5 455.5,72.9 457.1,72.6 458.7,72.8 460.3,72.3 461.9,72.5 463.6,72.3 465.2,72.5 466.8,72.6 468.4,72.2 470.0,72.5 471.7,72.3 473.3,72.4 475.0,72.8 476.7,72.7 478.3,72.3 480.0,72.7 481.7,72.3 483.3,72.6 485.0,72.3 486.7,72.2 488.3,72.8 490.0,72.4 491.7,72.4 493.3,72.9 495.0,72.8 496.7,72.4 498.3,72.9 500.0,72.6 501.7,72.6 503.3,72.7 505.0,72.4 506.7,72.9 508.3,72.8 510.0,73.0 511.7,72.9 513.3,72.5 515.0,72.6 516.7,72.4 518.3,72.4 520.0,72.4 521.7,72.5 523.3,72.8 525.0,72.7 526.7,72.8 528.3,73.6 530.0,73.9 531.6,73.8 533.2,73.8 534.9,74.2 536.5,74.0 538.1,73.9 539.7,74.0 541.3,74.2 542.9,73.7 544.5,74.4 546.2,73.7 547.8,74.3 549.4,74.1 551.2,74.4 552.9,73.9 554.7,74.5 556.5,74.2 558.2,74.4 560.0,74.4 561.6,74.2 563.3,74.3 564.9,74.6 566.5,75.3 568.2,74.9 569.8,75.2 571.4,74.9 573.1,74.5 574.7,73.7 576.4,73.9 578.2,73.4 579.9,73.4 581.7,73.4 583.4,73.5 585.1,72.9 586.9,73.3 588.6,73.3 590.4,73.2 592.1,72.9 595.0,73.5 596.0,74.7 597.0,76.5 598.6,77.4 600.2,77.3 601.8,78.2 603.1,77.0 604.4,76.1 605.7,75.0 607.6,75.2 609.4,74.7 611.3,75.1 613.1,74.7 615.0,74.6 616.7,74.5 618.3,74.4 620.0,74.3 621.7,74.3 623.3,74.3 625.0,74.7 626.7,74.9 628.3,74.3 630.0,74.5 631.7,74.2 633.3,74.8 635.0,74.5 636.7,74.4 638.3,74.2 640.0,74.5 641.7,74.6 643.3,74.3 645.0,74.3 646.7,74.0 648.3,74.6 650.0,74.3 651.7,73.9 653.3,74.2 655.0,74.5 656.7,73.9 658.3,74.3 660.0,74.4 661.7,74.2 663.3,74.3 665.0,73.8 666.7,74.0 668.3,73.7 670.0,74.2 671.7,73.8 673.3,73.9 675.0,74.2 676.7,74.1 678.3,74.2 680.0,73.8 681.7,73.7 683.3,73.7 685.0,73.9 686.7,73.7 688.3,73.5 690.0,73.6 691.7,73.3 693.3,73.5 695.0,73.9 696.6,73.8 698.3,73.6 700.0,73.4 701.6,73.3 703.3,73.1 705.0,73.2 706.6,73.5 708.3,73.3 709.9,73.6 711.5,73.2 713.2,73.5 714.8,73.5 716.4,73.4 718.0,73.4 719.6,73.5 721.2,73.2 722.9,73.4 724.5,73.1 726.1,73.3 727.7,73.5 729.3,73.4 731.0,73.2 732.6,73.6 734.2,73.4 735.8,73.4 737.4,73.0 739.1,73.3 740.7,73.1 742.3,73.4 743.9,73.3 745.5,73.5 747.1,73.4 748.8,73.5 750.4,73.2 752.0,73.3"/>
<polyline fill="none" stroke="#8c22a8" stroke-width="2.4" stroke-linejoin="round" stroke-linecap="round" points="444.5,113.0 444.9,112.2 445.3,111.3 445.8,110.5 446.2,109.7 446.6,108.8 447.0,108.0 447.4,107.2 447.8,106.5 448.1,105.7 448.5,104.9 448.9,104.2 449.2,103.4 449.6,102.6 450.0,101.9 450.4,101.1 450.8,100.3 451.1,99.6 451.5,98.8 451.8,98.0 452.1,97.2 452.4,96.3 452.7,95.5 453.0,94.7 453.2,93.9 453.5,93.1 453.8,92.3 454.1,91.4 454.4,90.6 454.7,89.8 455.0,89.0 455.3,88.2 455.6,87.4 455.9,86.6 456.2,85.8 456.5,85.0 456.8,84.2 457.1,83.4 457.4,82.6 457.7,81.8 458.0,81.0 458.3,80.2 458.6,79.5 458.9,78.8 459.3,78.0 459.6,77.2 459.9,76.5 460.2,75.8 460.5,75.0 460.9,74.2 461.2,73.5 461.5,72.8 461.8,72.0 462.2,71.1 462.6,70.2 463.1,69.2 463.5,68.3 463.9,67.4 464.3,66.5 464.9,65.8 465.4,65.2 465.9,64.5 466.5,63.8 467.2,64.5 467.9,65.3 468.6,66.0 469.3,66.8 470.1,66.1 470.9,65.4 471.7,64.7 472.5,64.0 473.2,63.5 473.8,63.0 474.5,62.5 475.2,62.0 475.8,61.5 476.5,61.0 477.3,60.3 478.1,59.6 478.9,58.9 479.7,58.2 480.5,57.5 481.4,56.9 482.2,56.2 483.0,55.5 483.9,54.9 484.8,54.2 485.6,53.6 486.5,53.0 487.3,52.7 488.1,52.4 488.9,51.9 489.8,51.5 490.6,51.0 491.4,50.4 492.3,50.8 493.3,51.3 494.2,51.7 495.2,52.2 496.1,52.3 497.1,52.4 498.1,52.7 499.0,53.0 500.0,53.0 501.0,53.0 502.0,53.4 503.0,53.8 504.0,53.9 505.0,54.0 506.0,54.0 507.0,54.0 508.0,54.1 508.9,54.2 509.9,54.5 510.8,54.7 511.8,54.8 512.7,54.8 513.8,54.9 514.9,55.0 515.9,55.3 517.0,55.5 517.9,55.7 518.8,55.8 519.7,55.7 520.6,55.5 521.5,55.7 522.4,55.8 523.3,55.7 524.1,55.7 525.0,55.6 526.0,55.2 527.0,54.9 528.0,54.5 528.8,54.5 529.6,54.5 530.4,54.3 531.2,54.2 532.0,53.9 532.8,53.7 533.8,53.3 534.7,53.0 535.7,52.7 536.7,52.4 537.6,52.0 538.6,51.7 539.6,52.3 540.5,52.8 541.5,53.3 542.5,53.7 543.5,53.4 544.4,53.1 545.4,53.1 546.4,53.1 547.3,52.9 548.3,52.7 549.2,52.9 550.1,53.1 551.1,53.0 552.0,53.0 553.0,53.1 554.0,53.2 555.1,53.4 556.1,53.7 557.1,54.1 558.0,54.4 559.0,54.6 560.0,54.8 560.9,55.1 561.9,55.4 562.8,55.5 563.8,55.6 564.8,55.9 565.8,56.1 566.8,56.4 567.7,56.6 568.7,57.1 569.7,57.6 570.7,57.4 571.6,57.2 572.6,56.8 573.6,56.5 574.5,56.1 575.5,55.6 576.5,55.6 577.4,55.6 578.3,55.4 579.3,55.3 580.2,55.3 581.2,55.4 582.2,55.5 583.1,55.7 584.0,55.7 585.0,55.6 585.8,55.4 586.7,55.2 587.5,55.4 588.4,55.5 589.2,55.3 590.0,55.0 590.9,54.8 591.7,54.7 592.5,55.4 593.3,56.1 594.1,56.8 595.0,57.2 595.8,57.7 596.6,58.3 597.5,59.0 597.9,59.8 598.2,60.7 599.0,62.0 599.3,63.0 599.7,64.0 600.4,65.2 601.0,63.8 601.2,62.8 601.5,61.8 601.8,61.0 602.1,60.2 602.4,59.3 602.7,58.5 603.0,57.7 603.2,56.9 603.5,55.9 603.8,54.9 604.6,54.9 605.4,54.9 606.2,54.4 607.0,53.9 607.8,53.8 608.6,53.8 609.5,53.7 610.3,53.6 611.1,53.4 611.9,53.1 612.7,53.0 613.5,52.9 614.3,53.1 615.1,53.4 615.9,53.4 616.8,53.4 617.6,53.9 618.4,54.4 619.2,54.5 620.0,55.3 620.9,55.4 621.8,55.0 622.7,54.8 623.5,55.4 624.4,56.9 625.3,57.9 626.2,57.8 627.1,57.3 627.9,56.7 628.7,56.7 629.5,57.2 630.3,57.4 631.1,57.0 632.0,56.2 632.8,55.2 633.6,54.9 634.4,55.3 635.2,55.8 636.0,55.8 636.8,55.1 637.6,54.7 638.4,54.7 639.2,55.2 640.0,55.9 640.8,56.5 641.6,56.3 642.5,55.8 643.3,55.4 644.1,55.7 644.9,56.6 645.7,57.3 646.5,57.5 647.4,56.8 648.2,56.0 649.0,55.8 649.9,56.4 650.8,57.0 651.6,57.1 652.5,56.4 653.3,55.6 654.1,55.3 655.0,55.8 655.8,56.6 656.7,56.9 657.5,56.5 658.4,55.8 659.2,55.6 660.0,56.1 660.9,56.9 661.7,57.4 662.6,57.1 663.5,56.5 664.4,56.3 665.2,56.9 666.1,57.8 667.0,58.3 668.0,57.8 669.1,57.1 670.1,57.4 671.2,58.5 672.2,59.1 673.3,58.6 674.2,57.9 675.2,58.0 676.1,58.9 677.1,59.6 678.0,59.4 679.0,58.6 680.0,58.3 681.0,59.0 682.0,59.9 683.0,60.0 684.0,59.2 685.0,58.7 685.8,59.2 686.7,60.1 687.5,60.8 688.3,60.7 689.2,60.2 690.0,59.8 690.8,59.9 691.6,60.6 692.5,61.3 693.3,61.4 694.1,60.8 695.0,60.2 695.8,60.1 696.6,60.7 697.5,61.5 698.4,61.7 699.3,61.1 700.2,60.4 701.1,60.4 702.0,61.2 703.0,62.0 704.1,61.8 705.1,60.9 706.2,60.7 707.2,61.5 708.3,62.3 709.2,62.0 710.2,61.1 711.1,60.7 712.1,61.2 713.0,62.1 714.0,62.2 715.0,61.5 716.0,60.8 717.0,60.9 717.9,61.8 718.9,62.3 719.9,61.8 720.7,61.0 721.6,60.7 722.4,61.1 723.3,61.9 724.1,62.3 725.0,61.9 725.8,61.1 726.6,60.7 727.5,61.0 728.3,61.8 729.2,62.3 730.0,62.0 730.8,61.3 731.7,60.8 732.5,61.0 733.3,61.7 734.2,62.3 735.0,62.3 735.8,61.6 736.7,60.9 737.5,60.9 738.3,61.6 739.2,62.3 740.0,62.4 740.8,61.9 741.6,61.2 742.4,60.9 743.2,61.4 744.1,62.1 744.9,62.5 745.7,62.2 746.5,61.4 747.3,60.9 748.1,61.1 748.9,61.8 749.8,62.4 750.6,62.4 751.4,61.7 752.2,61.0 753.0,61.7"/>
<polyline fill="none" stroke="#16901c" stroke-width="2.4" stroke-linejoin="round" stroke-linecap="round" points="446.3,206.0 446.5,205.2 446.6,204.3 446.8,203.5 447.0,202.7 447.1,201.9 447.3,201.0 447.5,200.2 447.6,199.4 447.8,198.5 448.0,197.7 448.1,196.9 448.3,196.0 448.4,195.2 448.6,194.4 448.8,193.6 448.9,192.7 449.1,191.9 449.3,191.1 449.4,190.2 449.6,189.4 449.7,188.6 449.8,187.8 450.0,187.0 450.1,186.2 450.2,185.4 450.3,184.6 450.4,183.7 450.6,182.9 450.7,182.1 450.8,181.3 450.9,180.5 451.1,179.7 451.2,178.9 451.3,178.1 451.4,177.3 451.5,176.5 451.7,175.7 451.8,174.8 451.9,174.0 452.0,173.2 452.1,172.4 452.3,171.6 452.4,170.8 452.5,170.0 452.6,169.2 452.7,168.4 452.8,167.6 452.9,166.7 453.1,165.9 453.2,165.1 453.3,164.3 453.4,163.5 453.5,162.7 453.6,161.8 453.7,161.0 453.8,160.2 453.9,159.4 454.1,158.6 454.2,157.8 454.3,157.0 454.4,156.1 454.5,155.3 454.6,154.5 454.7,153.7 454.8,152.9 455.0,152.1 455.1,151.2 455.2,150.4 455.3,149.6 455.4,148.8 455.6,148.0 455.8,147.2 455.9,146.5 456.1,145.7 456.3,144.9 456.4,144.1 456.6,143.3 456.8,142.5 457.0,141.8 457.1,141.0 457.3,140.2 457.5,139.4 457.7,138.6 457.9,137.7 458.1,136.9 458.3,136.1 458.5,135.2 458.6,134.4 458.8,133.6 459.0,132.7 459.2,131.9 459.4,131.1 459.6,130.2 459.8,129.4 460.0,128.6 460.1,127.8 460.3,127.0 460.4,126.1 460.6,125.3 460.7,124.5 460.9,123.7 461.1,122.9 461.2,122.1 461.4,121.3 461.5,120.4 461.7,119.6 461.8,118.8 462.0,118.0 462.1,117.2 462.3,116.3 462.5,115.5 462.6,114.7 462.8,113.8 462.9,113.0 463.0,112.2 463.2,111.3 463.4,110.5 463.5,109.7 463.6,108.8 463.8,108.0 464.0,107.2 464.1,106.3 464.2,105.5 464.4,104.7 464.6,103.8 464.7,103.0 464.9,102.2 465.0,101.3 465.1,100.5 465.3,99.7 465.5,98.8 465.6,98.0 466.2,97.4 466.8,96.8 467.4,96.3 468.0,95.7 468.3,94.9 468.6,94.2 468.9,93.4 469.2,92.6 469.5,91.8 469.8,91.1 470.1,90.3 470.4,89.5 470.7,88.8 471.0,88.0 471.3,87.2 471.6,86.4 471.9,85.6 472.2,84.8 472.5,84.0 472.8,83.2 473.1,82.4 473.4,81.6 473.7,80.8 474.0,80.0 474.5,79.2 474.9,78.3 475.4,77.5 475.9,76.7 476.3,75.8 476.8,75.0 477.3,74.0 477.8,72.9 478.3,71.8 478.8,70.8 479.2,70.0 479.7,69.2 480.1,68.4 480.6,67.6 481.1,66.8 481.5,66.0 482.0,65.3 482.5,64.6 482.9,63.9 483.4,63.2 483.9,62.5 484.4,61.8 485.0,60.8 485.7,59.9 486.4,59.0 487.0,58.0 487.6,57.2 488.1,56.5 488.7,55.7 489.3,54.9 490.4,53.8 491.3,53.4 492.2,53.0 493.1,52.5 494.0,52.0 494.9,51.6 495.7,51.3 496.6,51.3 497.4,51.3 498.2,51.1 499.1,50.9 499.9,50.8 500.7,50.7 501.6,50.5 502.4,50.3 503.2,50.4 504.0,50.5 504.8,50.4 505.6,50.3 506.4,50.1 507.2,49.8 508.0,49.9 508.8,50.0 509.9,49.7 510.9,49.4 511.9,49.2 513.0,49.0 513.9,48.7 514.8,48.3 515.8,48.2 516.7,48.0 517.6,48.0 518.5,48.0 519.5,47.8 520.5,47.6 521.5,47.6 522.4,47.6 523.4,47.3 524.4,47.0 525.2,46.5 526.0,45.9 526.8,45.6 527.6,45.3 528.4,45.1 529.2,44.9 530.0,44.4 530.8,44.0 532.4,44.0 533.1,43.6 533.9,43.3 534.7,43.0 535.5,42.7 537.0,42.8 537.8,42.4 538.6,42.0 539.1,41.0 539.6,40.1 540.4,40.6 541.2,41.0 541.7,41.7 542.3,42.3 542.8,43.0 543.6,43.5 544.4,44.0 545.2,43.9 546.0,43.8 546.8,43.8 547.7,43.7 548.5,43.9 549.3,44.0 550.0,43.4 550.6,42.7 551.9,41.9 553.2,41.1 554.1,41.3 554.9,41.6 555.8,41.4 556.6,41.3 557.5,41.6 558.3,41.8 559.1,41.9 560.0,42.0 560.9,42.4 561.7,42.7 562.6,42.9 563.5,43.1 564.4,43.5 565.2,43.8 566.1,43.9 567.0,44.1 567.8,44.5 568.7,45.0 569.6,44.4 570.4,43.9 571.2,43.6 572.1,43.3 573.0,43.1 573.8,42.9 574.6,42.4 575.5,42.0 576.5,42.0 577.4,41.9 578.3,41.9 579.3,41.9 580.2,42.0 581.2,42.1 582.2,42.0 583.1,42.0 584.0,42.0 585.0,42.0 585.8,42.0 586.7,42.1 587.5,42.4 588.4,42.7 589.2,42.8 590.0,42.9 590.9,43.0 591.7,43.0 592.7,43.1 593.6,43.3 594.6,43.7 595.5,44.1 596.5,44.3 597.5,44.5 598.4,44.8 599.4,45.0 599.7,45.7 600.1,46.5 600.4,47.2 600.9,48.0 601.4,48.8 601.6,48.0 601.8,47.2 602.0,46.2 602.2,45.2 602.5,44.0 602.7,43.2 602.8,42.3 602.9,41.5 603.3,40.1 603.7,40.9 604.0,41.7 604.4,42.7 604.8,43.7 605.5,44.9 605.8,45.9 606.2,46.9 607.0,46.2 607.8,45.6 608.7,44.8 609.5,43.9 610.3,43.5 611.1,43.0 611.8,43.5 612.5,44.0 613.2,44.4 613.9,44.9 615.3,45.5 616.0,46.1 616.6,46.6 618.0,47.0 618.7,47.6 619.4,48.1 620.8,49.3 621.6,48.3 622.3,47.4 623.1,47.0 623.9,47.2 624.6,47.5 625.4,47.3 626.2,46.6 627.0,45.7 627.7,44.7 628.5,44.4 629.3,45.5 630.1,46.6 631.0,46.6 631.8,46.0 632.6,45.6 633.4,45.8 634.2,46.4 635.0,47.1 635.8,47.9 636.7,47.9 637.5,47.3 638.3,47.1 639.1,47.4 639.9,48.1 640.7,48.5 641.5,48.1 642.3,47.3 643.1,46.7 644.0,46.6 644.8,47.2 645.6,47.8 646.4,47.8 647.2,47.2 648.0,46.4 648.9,46.3 649.8,47.1 650.6,48.0 651.5,48.5 652.4,48.1 653.2,47.5 654.1,47.5 655.0,48.3 655.8,49.2 656.7,49.6 657.5,49.3 658.4,48.7 659.2,48.5 660.0,49.1 660.9,50.1 661.7,50.6 662.6,50.3 663.5,49.6 664.4,49.4 665.2,49.9 666.1,50.9 667.0,51.3 667.8,51.0 668.6,50.4 669.4,50.2 670.1,50.5 670.9,51.4 671.7,52.1 672.5,52.3 673.3,51.8 674.2,51.1 675.2,51.3 676.1,52.2 677.1,53.0 678.0,52.9 679.0,52.1 680.0,51.9 681.0,52.7 682.0,53.8 683.0,54.0 684.0,53.3 685.0,52.9 685.8,53.4 686.7,54.4 687.5,55.1 688.3,55.1 689.2,54.6 690.0,54.3 690.8,54.5 691.6,55.3 692.5,56.1 693.3,56.2 694.1,55.7 695.0,55.1 695.8,55.1 696.6,55.8 697.5,56.7 698.4,56.9 699.3,56.4 700.2,55.7 701.1,55.8 702.0,56.6 703.0,57.4 704.1,57.2 705.1,56.3 706.2,56.1 707.2,57.0 708.3,57.8 709.2,57.5 710.2,56.7 711.1,56.3 712.1,56.8 713.0,57.7 714.0,57.9 715.0,57.2 716.0,56.5 717.0,56.7 717.9,57.6 718.9,58.1 719.9,57.6 720.7,56.9 721.6,56.6 722.4,57.1 723.3,57.9 724.1,58.3 725.0,58.0 725.8,57.2 726.6,56.8 727.5,57.2 728.3,58.0 729.2,58.5 730.0,58.3 730.8,57.6 731.7,57.1 732.5,57.3 733.3,58.1 734.2,58.7 735.0,58.7 735.8,58.0 736.7,57.4 737.5,57.4 738.3,58.1 739.2,58.8 740.0,58.9 740.8,58.4 741.6,57.7 742.4,57.4 743.2,57.9 744.1,58.7 744.9,59.0 745.7,58.7 746.5,58.0 747.3,57.5 748.1,57.7 748.9,58.4 749.8,59.0 750.6,59.0 751.4,58.3 752.2,57.6 753.0,58.3"/>
<polyline fill="none" stroke="#ff1414" stroke-width="2.3" stroke-linejoin="round" stroke-linecap="round" points="441.0,254.0 441.4,252.4 441.9,250.8 442.3,249.1 442.7,247.5 443.1,245.9 443.6,244.3 444.0,242.7 444.4,241.1 444.8,239.4 445.3,237.8 445.7,236.2 446.1,234.5 446.4,232.8 446.8,231.1 447.2,229.4 447.5,227.8 447.9,226.1 448.3,224.4 448.6,222.7 449.0,221.0 449.3,219.3 449.7,217.7 450.0,216.0 450.3,214.3 450.7,212.7 451.0,211.0 451.3,209.3 451.7,207.7 452.0,206.0 452.4,204.4 452.7,202.8 453.1,201.2 453.4,199.6 453.8,198.0 454.1,196.4 454.4,194.8 454.8,193.2 455.1,191.6 455.5,190.0 455.9,188.3 456.3,186.7 456.7,185.0 457.1,183.3 457.5,181.7 457.9,180.0 458.3,178.3 458.7,176.7 459.1,175.0 459.5,173.3 459.9,171.7 460.3,170.0 460.6,168.3 460.9,166.7 461.2,165.0 461.5,163.3 461.8,161.7 462.1,160.0 462.4,158.3 462.7,156.7 463.0,155.0 463.3,153.3 463.6,151.7 463.8,150.0 464.1,148.3 464.4,146.7 464.7,145.0 464.9,143.3 465.2,141.7 465.5,140.0 465.8,138.3 466.2,136.7 466.5,135.0 466.9,133.3 467.2,131.7 467.6,130.0 467.9,128.3 468.3,126.7 468.6,125.0 469.0,123.4 469.3,121.8 469.7,120.1 470.1,118.5 470.4,116.9 470.8,115.2 471.1,113.6 471.5,112.0 471.9,110.3 472.3,108.6 472.7,106.9 473.0,105.3 473.4,103.6 473.8,101.9 474.2,100.2 474.8,98.5 475.3,96.7 475.9,95.0 476.4,93.2 477.0,91.5 477.7,89.7 478.4,88.0 479.2,86.2 479.9,84.4 480.7,82.8 481.4,81.2 482.2,79.6 483.0,78.0 483.9,76.5 484.9,75.0 485.8,73.5 486.7,72.0 487.6,70.3 488.6,68.7 489.5,67.0 490.4,65.6 491.4,64.3 492.3,62.9 493.2,61.1 494.1,59.3 495.0,57.5 495.9,56.1 496.8,54.8 497.6,53.4 498.5,52.0 499.4,50.4 500.2,48.8 501.1,47.1 502.0,45.5 503.0,44.0 503.9,42.4 504.9,40.8 505.9,39.3 507.2,37.6 508.5,36.0 510.1,34.2 511.7,32.5 512.5,31.0 513.2,29.5 514.0,28.0 514.9,26.6 515.7,25.1 516.6,23.7 517.8,25.1 519.0,26.5 520.1,27.9 521.3,30.2 522.4,31.5 525.0,30.0 526.3,28.5 527.6,27.8 528.9,26.5 530.4,25.2 531.8,24.3 533.2,24.0 534.7,22.6 536.2,21.4 537.6,20.8 539.0,19.6 540.5,18.7 542.5,18.2 544.4,17.8 545.6,19.0 546.8,20.0 548.1,21.7 549.3,22.6 550.6,20.8 551.9,19.5 553.2,18.2 555.1,17.7 557.1,17.7 559.0,17.8 560.9,17.6 562.9,17.9 564.8,17.4 566.7,17.7 568.7,18.0 570.6,18.7 572.2,19.8 573.9,21.7 575.5,22.6 577.0,23.0 578.4,24.1 579.8,24.7 581.3,25.5 582.9,25.6 584.5,25.4 586.2,25.7 587.8,25.5 589.2,26.2 590.7,27.1 592.1,28.0 593.6,28.4 595.2,27.5 596.8,26.2 598.4,25.5 599.9,23.9 601.4,23.3 602.9,21.7 603.3,23.3 603.7,24.7 604.0,26.9 604.4,28.2 604.8,30.0 605.2,31.4 606.4,30.5 607.7,28.8 608.9,27.6 610.1,26.5 611.5,25.6 613.0,23.8 614.5,23.1 615.9,21.7 617.8,22.0 619.8,23.1 621.7,23.6 623.1,24.9 624.4,26.3 625.8,27.4 627.1,28.2 628.5,29.4 630.5,30.2 632.4,31.4 634.3,30.1 636.3,29.4 638.1,30.4 640.0,31.4 641.4,32.4 642.7,33.0 644.1,34.3 646.0,35.2 648.0,35.5 649.9,35.7 651.9,36.1 653.8,36.2 655.4,36.4 657.0,36.8 658.5,37.0 660.1,37.7 661.7,38.2 663.5,38.1 665.2,38.3 667.0,38.5 669.1,38.5 671.2,38.9 673.3,38.7 674.9,39.6 676.4,39.6 678.0,40.5 679.7,40.9 681.3,41.2 683.0,42.0 685.0,42.5 687.0,43.0 689.0,43.0 690.9,43.1 692.8,43.9 694.7,44.0 696.5,44.3 698.2,44.6 700.0,45.5 701.6,46.1 703.1,46.1 704.7,46.3 706.3,46.9 708.6,46.8 711.0,46.8 712.7,46.6 714.3,46.8 716.0,46.9 718.0,47.7 720.0,48.5 721.9,49.6 723.8,50.8 725.7,51.2 727.6,51.4 729.5,51.9 731.2,52.6 733.0,54.0 734.5,54.5 735.9,55.3 737.4,56.4 739.3,56.3 741.2,56.0 743.1,56.2 745.0,55.8 746.6,55.7 748.2,55.8 749.8,55.9 751.4,55.1 753.0,55.3"/>
<rect x="441.0" y="15.5" width="312.0" height="250.0" fill="none" stroke="#111" stroke-width="1.9"/>
<path fill="none" stroke="#111" stroke-width="1.7" d="M452.1,265.5v-3M452.1,15.5v3M463.3,265.5v-5.5M463.3,15.5v5.5M474.4,265.5v-3M474.4,15.5v3M485.6,265.5v-5.5M485.6,15.5v5.5M496.7,265.5v-3M496.7,15.5v3M507.9,265.5v-5.5M507.9,15.5v5.5M519.0,265.5v-3M519.0,15.5v3M530.1,265.5v-5.5M530.1,15.5v5.5M541.3,265.5v-3M541.3,15.5v3M552.4,265.5v-5.5M552.4,15.5v5.5M563.6,265.5v-3M563.6,15.5v3M574.7,265.5v-5.5M574.7,15.5v5.5M585.9,265.5v-3M585.9,15.5v3M597.0,265.5v-5.5M597.0,15.5v5.5M608.1,265.5v-3M608.1,15.5v3M619.3,265.5v-5.5M619.3,15.5v5.5M630.4,265.5v-3M630.4,15.5v3M641.6,265.5v-5.5M641.6,15.5v5.5M652.7,265.5v-3M652.7,15.5v3M663.9,265.5v-5.5M663.9,15.5v5.5M675.0,265.5v-3M675.0,15.5v3M686.1,265.5v-5.5M686.1,15.5v5.5M697.3,265.5v-3M697.3,15.5v3M708.4,265.5v-5.5M708.4,15.5v5.5M719.6,265.5v-3M719.6,15.5v3M730.7,265.5v-5.5M730.7,15.5v5.5M741.9,265.5v-3M741.9,15.5v3M441.0,253.0h3M753.0,253.0h-3M441.0,240.5h5.5M753.0,240.5h-5.5M441.0,228.0h3M753.0,228.0h-3M441.0,215.5h5.5M753.0,215.5h-5.5M441.0,203.0h3M753.0,203.0h-3M441.0,190.5h5.5M753.0,190.5h-5.5M441.0,178.0h3M753.0,178.0h-3M441.0,165.5h5.5M753.0,165.5h-5.5M441.0,153.0h3M753.0,153.0h-3M441.0,140.5h5.5M753.0,140.5h-5.5M441.0,128.0h3M753.0,128.0h-3M441.0,115.5h5.5M753.0,115.5h-5.5M441.0,103.0h3M753.0,103.0h-3M441.0,90.5h5.5M753.0,90.5h-5.5M441.0,78.0h3M753.0,78.0h-3M441.0,65.5h5.5M753.0,65.5h-5.5M441.0,53.0h3M753.0,53.0h-3M441.0,40.5h5.5M753.0,40.5h-5.5M441.0,28.0h3M753.0,28.0h-3"/>
<g class="tl"><text x="435.5" y="269.5" text-anchor="end">0</text><text x="435.5" y="244.5" text-anchor="end">10</text><text x="435.5" y="219.5" text-anchor="end">20</text><text x="435.5" y="194.5" text-anchor="end">30</text><text x="435.5" y="169.5" text-anchor="end">40</text><text x="435.5" y="144.5" text-anchor="end">50</text><text x="435.5" y="119.5" text-anchor="end">60</text><text x="435.5" y="94.5" text-anchor="end">70</text><text x="435.5" y="69.5" text-anchor="end">80</text><text x="435.5" y="44.5" text-anchor="end">90</text><text x="435.5" y="19.5" text-anchor="end">100</text><text x="441.0" y="281.0" text-anchor="middle">2</text><text x="463.3" y="281.0" text-anchor="middle">4</text><text x="485.6" y="281.0" text-anchor="middle">6</text><text x="507.9" y="281.0" text-anchor="middle">8</text><text x="530.1" y="281.0" text-anchor="middle">10</text><text x="552.4" y="281.0" text-anchor="middle">12</text><text x="574.7" y="281.0" text-anchor="middle">14</text><text x="597.0" y="281.0" text-anchor="middle">16</text><text x="619.3" y="281.0" text-anchor="middle">18</text><text x="641.6" y="281.0" text-anchor="middle">20</text><text x="663.9" y="281.0" text-anchor="middle">22</text><text x="686.1" y="281.0" text-anchor="middle">24</text><text x="708.4" y="281.0" text-anchor="middle">26</text><text x="730.7" y="281.0" text-anchor="middle">28</text><text x="753.0" y="281.0" text-anchor="middle">30</text></g>
<text x="591.7" y="299" text-anchor="middle" style="font-size:12.7px">Wavelength [μm]</text>
<text x="731.5" y="40" text-anchor="middle" style="font-size:16px;font-style:italic">(b)</text>
<text x="445.5" y="56.5" style="font-size:11px;fill:#8c22a8">0.8μm</text>
<text x="483.5" y="106.3" style="font-size:11px;fill:#ff1414">3.0μm</text>
<text x="472" y="171" style="font-size:11px;fill:#16901c">1.7μm</text>
<text x="555" y="95.5" style="font-size:11px">Si<tspan dx="0.5" dy="-3" style="font-size:8px">*</tspan></text>
<g transform="translate(402.5,175) rotate(-90)"><text x="0" y="0" style="font-size:13.5px">T<tspan dy="3" style="font-size:7.4px">Exp.</tspan><tspan dy="-3">/T</tspan><tspan dy="3" style="font-size:7.4px">Theo. Max</tspan><tspan dy="-3" dx="3" style="font-size:13px">[%]</tspan></text></g>
</svg>
</body></html>
